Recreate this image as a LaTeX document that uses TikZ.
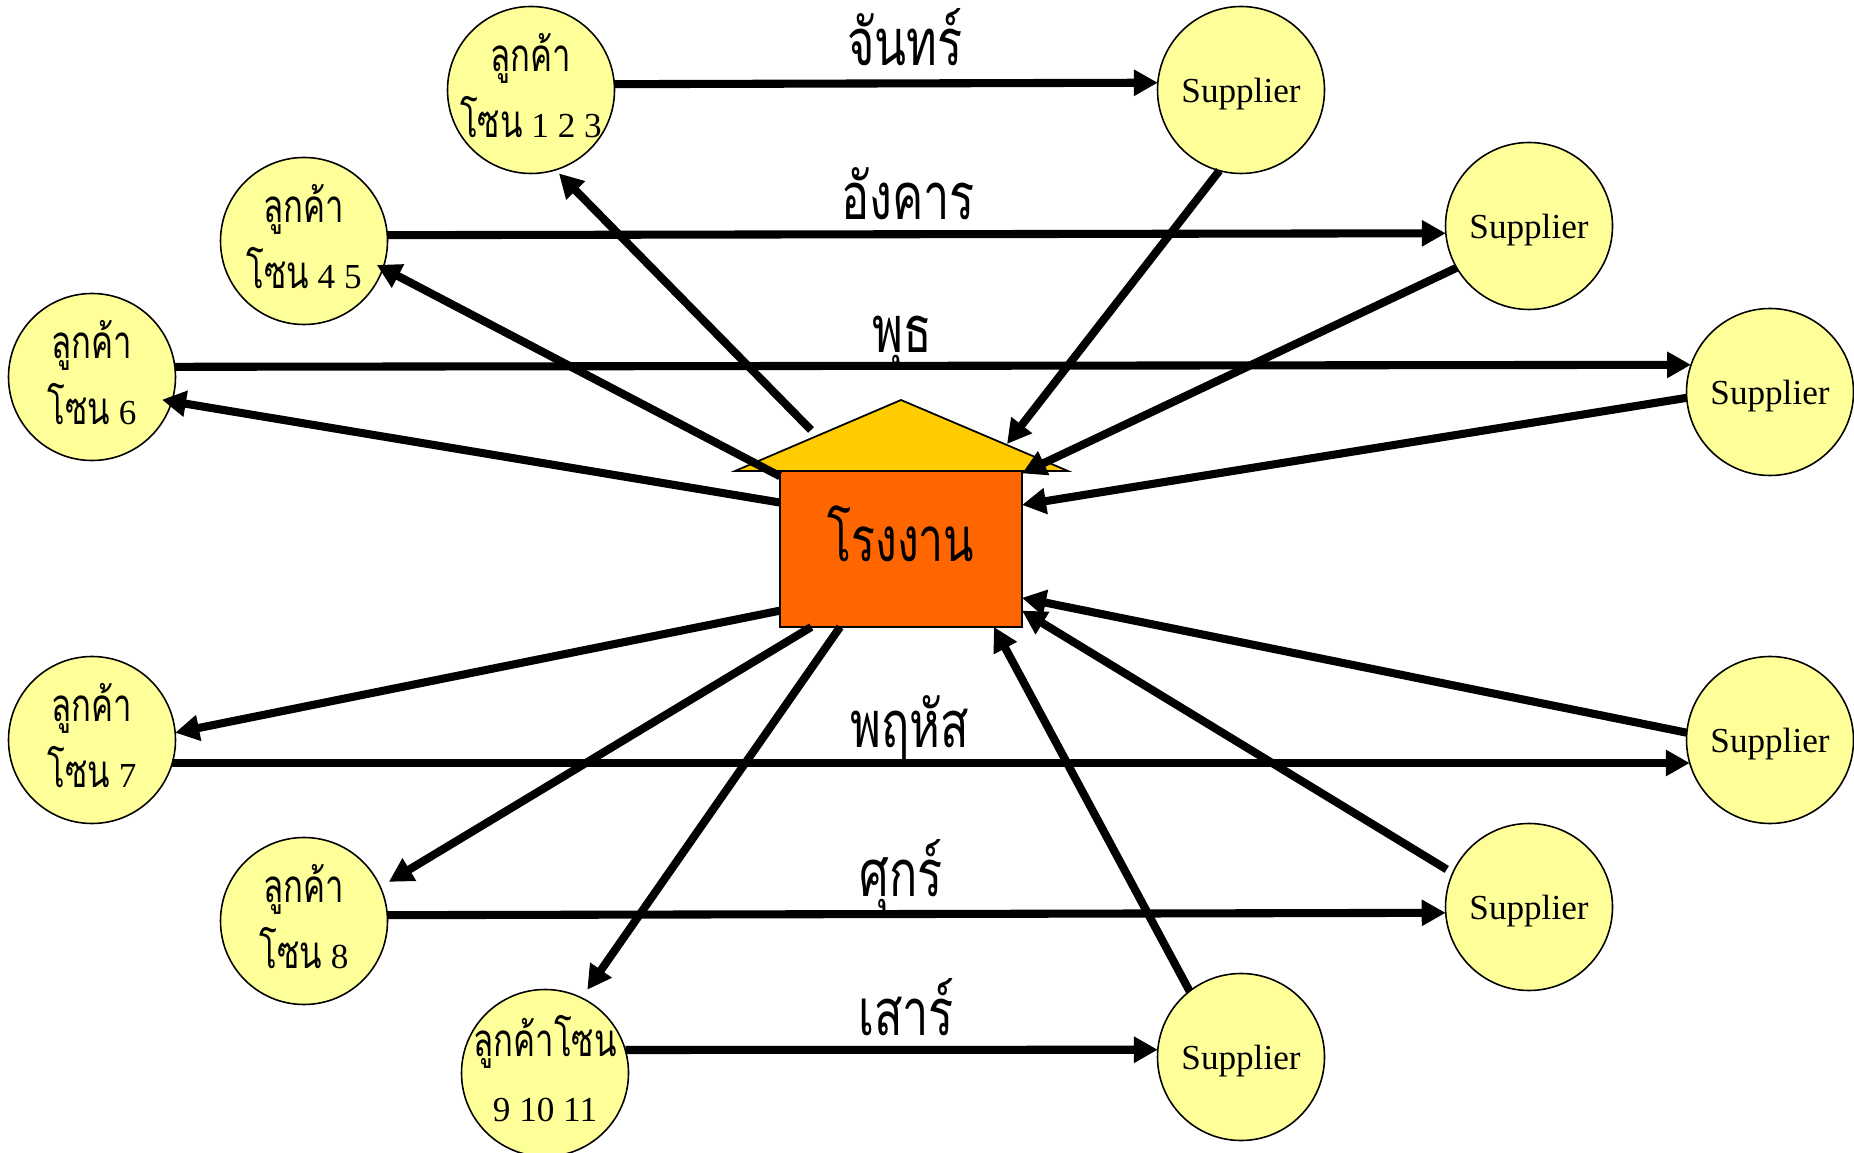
\documentclass[tikz,border=0pt]{standalone}
\usepackage{fontspec}
\usepackage{tikz}
\usetikzlibrary{arrows.meta}
\setmainfont{Liberation Serif}
\newfontfamily\thaifont[Script=Thai,FakeStretch=0.72]{Loma}
\newcommand{\zonethai}{\thaifont\fontsize{13}{18.5}\selectfont}
\newcommand{\zonelines}[2]{\makebox[0pt]{#1}\\\makebox[0pt]{#2}\rule[-2.6pt]{0pt}{0pt}}
\definecolor{circlefill}{HTML}{FFFF99}
\definecolor{rooffill}{HTML}{FFCC00}
\definecolor{plantfill}{HTML}{FF6600}
\tikzset{
    zone/.style={draw, circle, fill=circlefill, line width=0.45pt, minimum size=1.67cm, inner sep=0pt, outer sep=0pt, align=center, font=\fontsize{10}{18.5}\selectfont},
    supplier/.style={zone, text height=9.4pt, text depth=2.2pt},
    plantbox/.style={draw, rectangle, fill=plantfill, line width=0.6pt, minimum width=2.42cm, minimum height=1.56cm, inner sep=0pt, outer sep=0pt, font=\thaifont\fontsize{17.6}{17.6}\selectfont},
    roof/.style={draw, fill=rooffill, line width=0.5pt},
    flow/.style={line width=2.3pt, -{Triangle[length=0.24cm,width=0.25cm]}},
    day/.style={inner sep=0pt, font=\thaifont\fontsize{18.5}{18.5}\selectfont},
}

\begin{document}
\begin{tikzpicture}
        \useasboundingbox (0,0.01) rectangle (18.54,-11.52);

        \coordinate (rooftop) at (9.01,-3.99);
        \coordinate (roofright) at (10.68,-4.70);
        \coordinate (roofleft) at (7.35,-4.70);
        \coordinate (roofin) at (10.07,-4.43);
        \coordinate (roofout) at (8.11,-4.29);
        \draw [roof] (rooftop) -- (roofright) -- (roofleft) -- cycle;
        \node [plantbox] (plant) at (9.01,-5.48) {\raisebox{-3.6pt}[0pt][0pt]{โรงงาน}};

        \node [zone] (c1) at (5.31,-0.89) {\zonelines{\zonethai ลูกค้า}{{\zonethai โซน} 1 2 3}};
        \node [zone] (c2) at (3.04,-2.40) {\zonelines{\zonethai ลูกค้า}{{\zonethai โซน} 4 5}};
        \node [zone] (c3) at (0.92,-3.76) {\zonelines{\zonethai ลูกค้า}{{\zonethai โซน} 6}};
        \node [zone] (c4) at (0.92,-7.39) {\zonelines{\zonethai ลูกค้า}{{\zonethai โซน} 7}};
        \node [zone] (c5) at (3.04,-9.20) {\zonelines{\zonethai ลูกค้า}{{\zonethai โซน} 8}};
        \node [zone] (c6) at (5.45,-10.72) {\zonelines{\zonethai ลูกค้าโซน}{9 10 11}};

        \node [supplier] (s1) at (12.41,-0.89) {Supplier};
        \node [supplier] (s2) at (15.29,-2.25) {Supplier};
        \node [supplier] (s3) at (17.70,-3.91) {Supplier};
        \node [supplier] (s4) at (17.70,-7.39) {Supplier};
        \node [supplier] (s5) at (15.29,-9.06) {Supplier};
        \node [supplier] (s6) at (12.41,-10.56) {Supplier};

        \draw [flow] (c1.4.9) -- (s1.175.1);
        \draw [flow] (c2.4.9) -- (s2.185.7);
        \draw [flow] (c3.7.3) -- (s3.161.8);
        \draw [flow] (c4.-16.5) -- (s4.196.5);
        \draw [flow] (c5.4.9) -- (s5.184.9);
        \draw [flow] (c6.16.5) -- (s6.175.1);

        \draw [flow] (s1.-105.7) -- (roofin);
        \draw [flow] (s2.210.4) -- (plant.32);
        \draw [flow] (s3.184) -- (plant.20.8);
        \draw [flow] (s4.175) -- (plant.-22);
        \draw [flow, shorten <=0.07cm] (s5.156) -- (plant.-27.9);
        \draw [flow] (s6.128.3) -- (plant.-40.9);

        \draw [flow, shorten >=0.05cm] (roofout) -- (c1.-73.7);
        \draw [flow, shorten >=-0.07cm] (plant.149) -- (c2.-19);
        \draw [flow, shorten >=-0.1cm] (plant.159.4) -- (c3.-17);
        \draw [flow] (plant.207.5) -- (c4.5.5);
        \draw [flow, shorten >=0.1cm] (plant.221.5) -- (c5.24.6);
        \draw [flow, shorten >=0.1cm] (plant.232.4) -- (c6.64.7);

        \node [day] (mon) at (9.05,-0.36) {จันทร์};
        \node [day] (tue) at (9.08,-1.93) {อังคาร};
        \node [day] (wed) at (9.02,-3.42) {พุธ};
        \node [day] (thu) at (9.10,-7.27) {พฤหัส};
        \node [day] (fri) at (9.01,-8.75) {ศุกร์};
        \node [day] (sat) at (9.06,-10.06) {เสาร์};

\end{tikzpicture}
\end{document}
